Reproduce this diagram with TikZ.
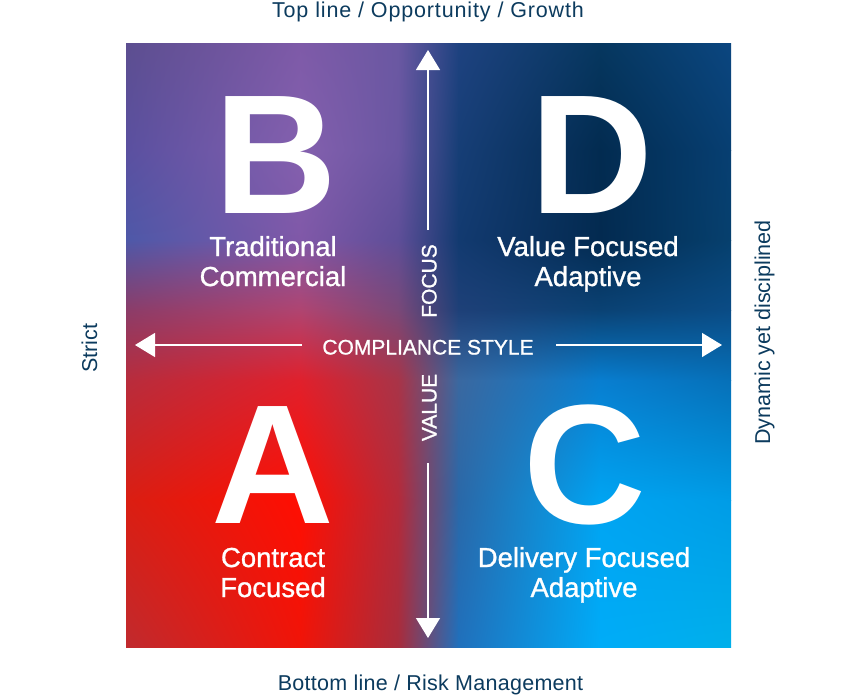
\documentclass[tikz,border=0pt]{standalone}
\usepackage{fontspec}
\setmainfont{Liberation Sans}
\newfontfamily\medfont{Liberation Sans}[FakeBold=1]
\newfontfamily\boldfont{Liberation Sans Bold}
\newfontfamily\topfont{Liberation Sans}[LetterSpace=4]
\newfontfamily\botfont{Liberation Sans}[LetterSpace=1.3]
\usetikzlibrary{arrows.meta,shadings}
\definecolor{navy}{HTML}{0C3B5E}
% colour grid (columns A-F, rows 1-7)
\definecolor{cA1}{HTML}{5C4E90}\definecolor{cB1}{HTML}{7E5AA8}\definecolor{cC1}{HTML}{6A58A2}\definecolor{cD1}{HTML}{1E4280}\definecolor{cE1}{HTML}{06375F}\definecolor{cF1}{HTML}{0B4680}
\definecolor{cA2}{HTML}{5A50A0}\definecolor{cB2}{HTML}{8460AE}\definecolor{cC2}{HTML}{6A56A2}\definecolor{cD2}{HTML}{163E76}\definecolor{cE2}{HTML}{022B50}\definecolor{cF2}{HTML}{073F72}
\definecolor{cA3}{HTML}{4E58A8}\definecolor{cB3}{HTML}{8058A8}\definecolor{cC3}{HTML}{5E4E98}\definecolor{cD3}{HTML}{123A70}\definecolor{cE3}{HTML}{032A50}\definecolor{cF3}{HTML}{06406E}
\definecolor{cA4}{HTML}{8C3C68}\definecolor{cB4}{HTML}{B04470}\definecolor{cC4}{HTML}{7A4878}\definecolor{cD4}{HTML}{1E4078}\definecolor{cE4}{HTML}{0A4274}\definecolor{cF4}{HTML}{0A4C86}
\definecolor{cA5}{HTML}{B82C3C}\definecolor{cB5}{HTML}{E0202C}\definecolor{cC5}{HTML}{A83448}\definecolor{cD5}{HTML}{3A68A0}\definecolor{cE5}{HTML}{087ED0}\definecolor{cF5}{HTML}{0670B8}
\definecolor{cA6}{HTML}{DA1E12}\definecolor{cB6}{HTML}{FF0E02}\definecolor{cC6}{HTML}{B42A3A}\definecolor{cD6}{HTML}{2A68A8}\definecolor{cE6}{HTML}{00A4F2}\definecolor{cF6}{HTML}{009CE6}
\definecolor{cA7}{HTML}{C02A2E}\definecolor{cB7}{HTML}{F01408}\definecolor{cC7}{HTML}{A82C3C}\definecolor{cD7}{HTML}{2070BC}\definecolor{cE7}{HTML}{00ACF8}\definecolor{cF7}{HTML}{00B0EA}
\tikzset{
  bigletter/.style={text=white, font=\boldfont\fontsize{170}{170}\selectfont, inner sep=0pt, anchor=base, text depth=0pt, text height=124pt},
  qlabel/.style={text=white, font=\medfont\fontsize{27.5}{30}\selectfont, inner sep=0pt, anchor=base},
  axlabel/.style={text=white, font=\medfont\fontsize{21}{21}\selectfont, inner sep=0pt, anchor=base},
  outlabel/.style={text=navy, font=\fontsize{21.5}{21.5}\selectfont, inner sep=0pt, anchor=base},
  axarrow/.style={white, line width=1.3pt, -{Triangle[length=20pt,width=24pt]}}
}
\begin{document}
\begin{tikzpicture}[x=1pt,y=-1pt]
\useasboundingbox (0,0) rectangle (854,696);
\fill[white] (0,0) rectangle (854,696);
% gradient background
\begin{scope}
\clip (126,43) rectangle (731,647);
\foreach \i/\ni/\x/\nx in {A/B/126/300, B/C/300/398, C/D/398/458, D/E/458/600, E/F/600/731} {
  \foreach \j/\nj/\y/\ny in {1/2/43/150, 2/3/150/240, 3/4/240/310, 4/5/310/380, 5/6/380/500, 6/7/500/647} {
    \shade[upper left=c\i\j, upper right=c\ni\j, lower left=c\i\nj, lower right=c\ni\nj]
      (\x,\y) rectangle (\nx+0.7,\ny+0.7);
  }
}
\end{scope}
% big letters
\node[bigletter] (B) at (276,213) {B};
\node[bigletter] (D) at (592,213) {D};
\node[bigletter] (A) at (273,523) {A};
\node[bigletter] (C) at (585,523) {C};
% quadrant labels
\node[qlabel] (b1) at (273,256) {Traditional};
\node[qlabel] (b2) at (273,286) {Commercial};
\node[qlabel] (d1) at (588,256) {Value Focused};
\node[qlabel] (d2) at (588,286) {Adaptive};
\node[qlabel] (a1) at (273,567) {Contract};
\node[qlabel] (a2) at (273,597) {Focused};
\node[qlabel] (c1) at (584,567) {Delivery Focused};
\node[qlabel] (c2) at (584,597) {Adaptive};
% axis labels
\node[axlabel] (cs) at (428,354.5) {COMPLIANCE STYLE};
\node[axlabel, rotate=90] (focus) at (436.5,281) {FOCUS};
\node[axlabel, rotate=90] (value) at (436.5,407.5) {VALUE};
% arrows
\coordinate (upstart) at (428,230);
\coordinate (uptip) at (428,50);
\coordinate (downstart) at (428,463);
\coordinate (downtip) at (428,638);
\coordinate (leftstart) at (302,345);
\coordinate (lefttip) at (135,345);
\coordinate (rightstart) at (556,345);
\coordinate (righttip) at (722,345);
\draw[axarrow] (upstart) -- (uptip);
\draw[axarrow] (downstart) -- (downtip);
\draw[axarrow] (leftstart) -- (lefttip);
\draw[axarrow] (rightstart) -- (righttip);
% outer labels
\node[outlabel, font=\topfont\fontsize{21.5}{21.5}\selectfont] (top) at (428,17.3) {Top line / Opportunity / Growth};
\node[outlabel, font=\botfont\fontsize{21.5}{21.5}\selectfont] (bottom) at (430.5,690.5) {Bottom line / Risk Management};
\node[outlabel, rotate=90] (strict) at (97,348.5) {Strict};
\node[outlabel, rotate=90] (dyn) at (770,332.5) {Dynamic yet disciplined};
\end{tikzpicture}
\end{document}
